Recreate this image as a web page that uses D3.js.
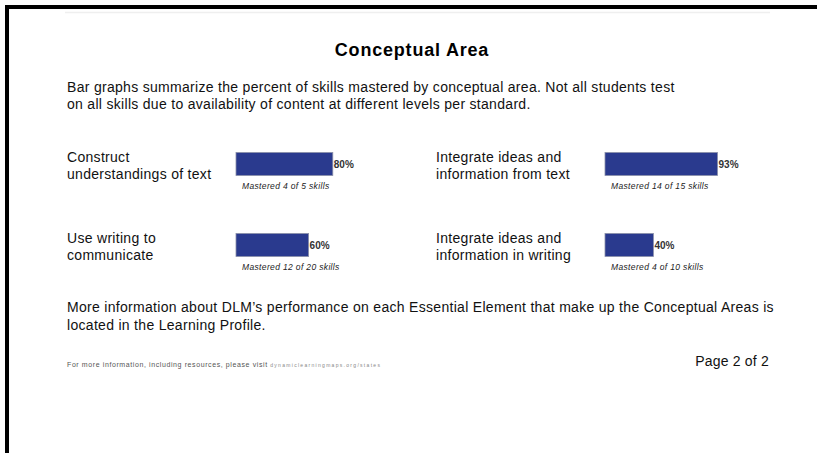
<!DOCTYPE html>
<html lang="en">
<head>
  <meta charset="UTF-8">
  <title>Conceptual Area</title>
  <script src="https://d3js.org/d3.v7.min.js"></script>
  <style>
    body { margin: 0; background: #fff; }
    svg { display: block; font-family: "Liberation Sans", Arial, Helvetica, sans-serif; }
  </style>
</head>
<body>
  <svg id="page"></svg>
  <script>
    // chart data
    const areaLines = [
      ["Construct", "understandings of text"],
      ["Integrate ideas and", "information from text"],
      ["Use writing to", "communicate"],
      ["Integrate ideas and", "information in writing"]
    ];
    const percents = [80, 93, 60, 40];
    const mastered = [4, 14, 12, 4];
    const totals = [5, 15, 20, 10];

    const introLines = [
      "Bar graphs summarize the percent of skills mastered by conceptual area. Not all students test",
      "on all skills due to availability of content at different levels per standard."
    ];
    const outroLines = [
      "More information about DLM\u2019s performance on each Essential Element that make up the Conceptual Areas is",
      "located in the Learning Profile."
    ];

    const width = 817;
    const height = 453;
    const barColor = "#2a3a8e";

    const svg = d3.select("#page")
      .attr("width", width)
      .attr("height", height);

    // page frame
    svg.append("rect").attr("x", 5).attr("y", 5).attr("width", width - 5).attr("height", 4).attr("fill", "#000");
    svg.append("rect").attr("x", 5).attr("y", 5).attr("width", 4).attr("height", height - 5).attr("fill", "#000");
    svg.append("line")
      .attr("x1", 65).attr("x2", 770).attr("y1", 12.5).attr("y2", 12.5)
      .attr("stroke", "#efefef").attr("stroke-width", 1.5);

    svg.append("text")
      .attr("x", 412).attr("y", 56)
      .attr("text-anchor", "middle")
      .attr("font-size", 18).attr("font-weight", "bold")
      .attr("letter-spacing", 0.8)
      .text("Conceptual Area");

    svg.selectAll(".intro")
      .data(introLines)
      .enter()
      .append("text")
      .attr("class", "intro")
      .attr("x", 67)
      .attr("y", (d, i) => 92 + i * 17)
      .attr("font-size", 14)
      .attr("letter-spacing", 0.3)
      .attr("fill", "#111")
      .text(d => d);

    // bars: 2 columns x 2 rows
    const colX = [67, 436];
    const rowY = [152, 233];
    const barOffset = 169;
    const xScale = d3.scaleLinear().domain([0, 100]).range([0, 121]);

    const cells = percents.map((p, i) => ({
      lines: areaLines[i], pct: p, got: mastered[i], total: totals[i],
      x: colX[i % 2], y: rowY[Math.floor(i / 2)]
    }));

    const g = svg.selectAll(".cell")
      .data(cells)
      .enter()
      .append("g")
      .attr("class", "cell")
      .attr("transform", d => `translate(${d.x},${d.y})`);

    g.append("text")
      .attr("font-size", 14)
      .attr("letter-spacing", 0.3)
      .attr("fill", "#111")
      .selectAll("tspan")
      .data(d => d.lines)
      .enter()
      .append("tspan")
      .attr("x", 0)
      .attr("y", (d, i) => 10 + i * 17)
      .text(d => d);

    g.append("rect")
      .attr("x", barOffset)
      .attr("y", 0.5)
      .attr("width", d => xScale(d.pct))
      .attr("height", 23)
      .attr("fill", barColor)
      .attr("stroke", "#8a8fa8")
      .attr("stroke-width", 0.8);

    g.append("text")
      .attr("x", d => barOffset + xScale(d.pct) + 1)
      .attr("y", 15.5)
      .attr("font-size", 10)
      .attr("font-weight", "bold")
      .attr("fill", "#333")
      .text(d => d.pct + "%");

    g.append("text")
      .attr("x", barOffset + 6)
      .attr("y", 37)
      .attr("font-size", 8.5)
      .attr("font-style", "italic")
      .attr("letter-spacing", 0.35)
      .attr("fill", "#222")
      .text(d => `Mastered ${d.got} of ${d.total} skills`);

    svg.selectAll(".outro")
      .data(outroLines)
      .enter()
      .append("text")
      .attr("class", "outro")
      .attr("x", 67)
      .attr("y", (d, i) => 312 + i * 18)
      .attr("font-size", 14)
      .attr("letter-spacing", 0.3)
      .attr("fill", "#111")
      .text(d => d);

    // footer
    const foot = svg.append("text")
      .attr("x", 67).attr("y", 367)
      .attr("font-size", 7)
      .attr("letter-spacing", 0.6)
      .attr("fill", "#555");
    foot.append("tspan").text("For more information, including resources, please visit ");
    foot.append("tspan").attr("font-size", 5).attr("letter-spacing", 1.3).attr("fill", "#888").text("dynamiclearningmaps.org/states");

    svg.append("text")
      .attr("x", 769).attr("y", 366)
      .attr("text-anchor", "end")
      .attr("font-size", 14)
      .attr("letter-spacing", 0.2)
      .attr("fill", "#111")
      .text("Page 2 of 2");
  </script>
</body>
</html>
